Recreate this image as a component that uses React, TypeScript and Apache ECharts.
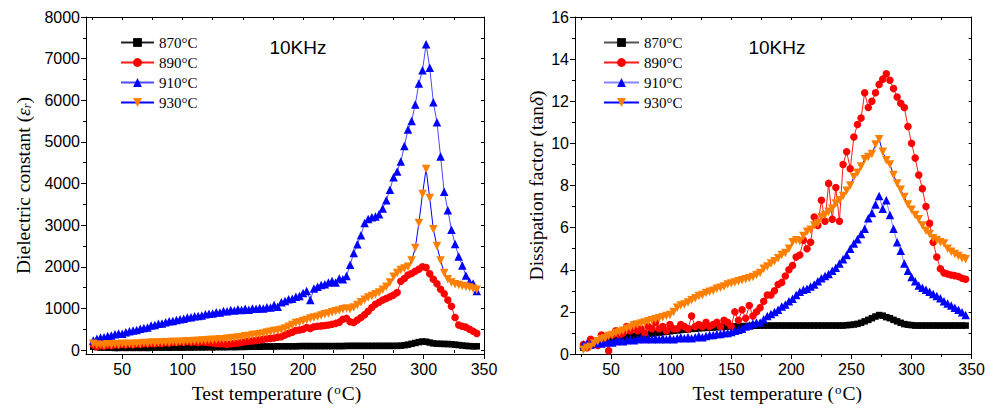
import React, { useEffect, useRef } from "react";
import * as echarts from "echarts";

// ---------- data ----------
const tempsLeft = [
  26, 29, 32, 35, 38, 41, 44, 47, 50, 53,
  56, 59, 62, 65, 68, 71, 74, 77, 80, 83,
  86, 89, 92, 95, 98, 101, 104, 107, 110, 113,
  116, 119, 122, 125, 128, 131, 134, 137, 140, 143,
  146, 149, 152, 155, 158, 161, 164, 167, 170, 173,
  176, 179, 182, 185, 188, 191, 194, 197, 200, 203,
  206, 209, 212, 215, 218, 221, 224, 227, 230, 233,
  236, 239, 242, 245, 248, 251, 254, 257, 260, 263,
  266, 269, 272, 275, 278, 281, 284, 287, 290, 293,
  296, 299, 302, 305, 308, 311, 314, 317, 320, 323,
  326, 329, 332, 335, 338, 341, 344,
];
const tempsRight = [
  27, 30, 33, 36, 39, 42, 45, 48, 51, 54,
  57, 60, 63, 66, 69, 72, 75, 78, 81, 84,
  87, 90, 93, 96, 99, 102, 105, 108, 111, 114,
  117, 120, 123, 126, 129, 132, 135, 138, 141, 144,
  147, 150, 153, 156, 159, 162, 165, 168, 171, 174,
  177, 180, 183, 186, 189, 192, 195, 198, 201, 204,
  207, 210, 213, 216, 219, 222, 225, 228, 231, 234,
  237, 240, 243, 246, 249, 252, 255, 258, 261, 264,
  267, 270, 273, 276, 279, 282, 285, 288, 291, 294,
  297, 300, 303, 306, 309, 312, 315, 318, 321, 324,
  327, 330, 333, 336, 339, 342, 345,
];

// Dielectric constant (left panel)
const eps870 = [
  80, 70, 60, 60, 55, 55, 50, 50, 55, 50,
  55, 50, 55, 50, 55, 50, 55, 55, 60, 55,
  60, 55, 60, 60, 60, 60, 65, 60, 65, 65,
  65, 65, 70, 65, 70, 70, 70, 70, 75, 70,
  75, 75, 75, 80, 80, 80, 80, 85, 85, 85,
  85, 90, 90, 90, 90, 90, 90, 95, 95, 95,
  95, 95, 95, 95, 95, 95, 95, 95, 95, 95,
  100, 100, 100, 100, 100, 100, 100, 100, 100, 100,
  100, 100, 100, 100, 100, 105, 115, 130, 150, 170,
  190, 205, 200, 180, 160, 150, 150, 145, 145, 140,
  130, 120, 110, 100, 95, 90, 90,
];
const eps890 = [
  120, 80, 110, 100, 120, 110, 130, 120, 140, 130,
  150, 130, 150, 140, 160, 150, 160, 150, 170, 160,
  180, 170, 190, 180, 200, 190, 210, 190, 200, 180,
  200, 190, 180, 170, 160, 150, 150, 140, 150, 160,
  170, 180, 200, 210, 220, 230, 250, 260, 270, 280,
  290, 310, 320, 360, 400, 430, 470, 480, 500, 540,
  520, 560, 570, 580, 590, 600, 620, 640, 670, 740,
  760, 680, 660, 720, 780, 850, 930, 1020, 1100, 1150,
  1200, 1240, 1280, 1320, 1380, 1650, 1720, 1800, 1840, 1890,
  1940, 2000, 1980, 1830, 1700, 1590, 1460, 1350, 1200, 1050,
  780, 600, 570, 550, 500, 450, 400,
];
const eps910 = [
  230, 270, 300, 310, 340, 350, 380, 400, 390, 430,
  450, 470, 480, 510, 530, 540, 590, 600, 630, 640,
  670, 690, 700, 720, 740, 750, 780, 790, 810, 820,
  830, 860, 870, 880, 910, 900, 940, 930, 960, 950,
  980, 960, 990, 970, 1000, 990, 1010, 1000, 1030, 1020,
  1080, 1040, 1150, 1180, 1220, 1230, 1280, 1300, 1370, 1420,
  1200, 1480, 1520, 1560, 1580, 1620, 1660, 1620, 1720, 1700,
  1780, 2050, 2330, 2540, 2760, 3050, 3150, 3190, 3210, 3260,
  3400, 3600, 3850, 4150, 4290, 4530, 4900, 5300, 5500, 5900,
  6400, 6720, 7344, 6780, 5950, 5470, 4650, 3800, 3360, 2890,
  2550, 2250, 2030, 1790, 1640, 1600, 1420,
];
const eps930 = [
  150, 120, 130, 110, 140, 120, 140, 130, 150, 140,
  150, 140, 160, 150, 170, 160, 180, 170, 180, 180,
  190, 180, 200, 190, 200, 200, 210, 210, 220, 220,
  230, 230, 240, 240, 250, 260, 260, 270, 280, 290,
  300, 310, 330, 340, 360, 370, 380, 400, 420, 440,
  460, 470, 490, 520, 560, 600, 650, 670, 700, 720,
  760, 780, 800, 830, 860, 880, 910, 930, 950, 980,
  1000, 980, 1020, 1080, 1150, 1210, 1260, 1300, 1340, 1380,
  1450, 1520, 1620, 1760, 1850, 1920, 1960, 2000, 2150, 2450,
  3050, 3750, 4350, 3650, 2900, 2500, 2150, 1850, 1700, 1620,
  1580, 1560, 1540, 1520, 1500, 1470, 1450,
];

// Dissipation factor (right panel)
const tan870 = [
  0.3, 0.35, 0.4, 0.45, 0.5, 0.55, 0.6, 0.65, 0.7, 0.72,
  0.75, 0.78, 0.8, 0.83, 0.86, 0.88, 0.9, 0.92, 0.95, 0.97,
  1.0, 1.02, 1.04, 1.06, 1.08, 1.1, 1.12, 1.14, 1.16, 1.17,
  1.19, 1.2, 1.22, 1.23, 1.24, 1.25, 1.26, 1.27, 1.28, 1.29,
  1.3, 1.3, 1.31, 1.32, 1.32, 1.33, 1.33, 1.34, 1.34, 1.35,
  1.35, 1.35, 1.35, 1.35, 1.35, 1.35, 1.35, 1.35, 1.35, 1.35,
  1.35, 1.35, 1.35, 1.35, 1.35, 1.35, 1.35, 1.35, 1.35, 1.35,
  1.35, 1.35, 1.35, 1.37, 1.38, 1.4, 1.43, 1.48, 1.55, 1.62,
  1.7, 1.78, 1.85, 1.82, 1.75, 1.7, 1.62, 1.55, 1.48, 1.42,
  1.39, 1.37, 1.35, 1.35, 1.35, 1.35, 1.35, 1.35, 1.35, 1.35,
  1.35, 1.35, 1.35, 1.35, 1.35, 1.35, 1.35,
];
const tan890 = [
  0.45, 0.3, 0.7, 0.5, 0.4, 0.9, 0.6, 0.15, 0.9, 1.1,
  0.9, 1.0, 1.3, 1.1, 1.4, 1.1, 1.2, 1.0, 1.3, 1.2,
  1.5, 1.2, 1.3, 1.1, 1.4, 1.2, 1.2, 1.4, 1.3, 1.2,
  1.8, 1.3, 1.4, 1.3, 1.5, 1.3, 1.4, 1.5, 1.3, 1.6,
  1.5, 1.3, 2.0, 1.6, 2.1, 1.7, 2.3, 1.8, 2.0, 2.2,
  2.5, 2.8, 2.8, 3.0, 3.3, 3.4, 3.7, 4.0, 4.2, 4.6,
  4.7, 5.4, 5.0, 5.3, 6.5, 6.1, 7.3, 6.3, 8.1, 6.4,
  7.9, 6.3, 9.0, 9.6, 8.8, 10.3, 10.9, 11.2, 12.4, 11.7,
  12.0, 12.4, 12.8, 13.05, 13.3, 13.0, 12.6, 12.2, 11.9, 11.7,
  10.8, 10.0, 9.3, 8.5, 7.85, 7.0, 6.2, 5.3, 4.6, 4.05,
  3.85, 3.8, 3.75, 3.72, 3.68, 3.6, 3.55,
];
const tan910 = [
  0.45, 0.5, 0.45, 0.5, 0.55, 0.5, 0.55, 0.6, 0.55, 0.6,
  0.65, 0.6, 0.65, 0.7, 0.65, 0.7, 0.75, 0.7, 0.75, 0.7,
  0.75, 0.7, 0.75, 0.7, 0.75, 0.7, 0.75, 0.8, 0.75, 0.8,
  0.75, 0.8, 0.85, 0.8, 0.85, 0.9, 0.9, 0.95, 0.95, 1.0,
  1.0, 1.05, 1.1, 1.15, 1.2, 1.3, 1.35, 1.45, 1.5, 1.5,
  1.65, 1.8, 1.9, 2.0, 2.1, 2.25, 2.35, 2.5, 2.62, 2.8,
  2.95, 3.05, 3.1, 3.2, 3.3, 3.45, 3.6, 3.7, 3.8, 3.95,
  4.1, 4.3, 4.5, 4.7, 5.0, 5.25, 5.45, 5.7, 5.95, 6.45,
  6.7, 7.1, 7.5, 6.9, 7.3, 6.6, 5.95, 5.3, 4.9, 4.3,
  3.95, 3.65, 3.45, 3.25, 3.15, 3.05, 2.95, 2.85, 2.75, 2.65,
  2.5, 2.4, 2.3, 2.2, 2.1, 1.98, 1.85,
];
const tan930 = [
  0.2, 0.3, 0.35, 0.5, 0.6, 0.7, 0.75, 0.85, 0.9, 1.0,
  1.05, 1.1, 1.2, 1.25, 1.35, 1.4, 1.45, 1.5, 1.55, 1.6,
  1.65, 1.7, 1.75, 1.8, 1.85, 2.0, 2.2, 2.3, 2.35, 2.45,
  2.55, 2.65, 2.75, 2.8, 2.9, 2.95, 3.0, 3.1, 3.15, 3.2,
  3.3, 3.35, 3.4, 3.45, 3.5, 3.55, 3.6, 3.65, 3.75, 3.85,
  4.05, 4.15, 4.3, 4.4, 4.55, 4.7, 4.8, 5.0, 5.3, 5.4,
  5.35, 5.6, 5.8, 5.9, 6.1, 6.2, 6.5, 6.6, 6.75, 6.9,
  7.15, 7.3, 7.5, 7.75, 8.0, 8.4, 8.6, 8.9, 9.25, 9.35,
  9.5, 9.95, 10.2, 9.6, 9.2, 9.0, 8.5, 8.1, 7.8, 7.45,
  7.1, 6.85, 6.6, 6.4, 6.1, 5.85, 5.7, 5.5, 5.4, 5.3,
  5.25, 5.0, 4.85, 4.75, 4.65, 4.55, 4.5,
];

const legendLabels = ["870°C", "890°C", "910°C", "930°C"];
const xMajorTicks = [50, 100, 150, 200, 250, 300, 350];
const xMinorTicks = [25, 75, 125, 175, 225, 275, 325];
const epsMajorTicks = [0, 1000, 2000, 3000, 4000, 5000, 6000, 7000, 8000];
const epsMinorTicks = [500, 1500, 2500, 3500, 4500, 5500, 6500, 7500];
const tanMajorTicks = [0, 2, 4, 6, 8, 10, 12, 14, 16];
const tanMinorTicks = [1, 3, 5, 7, 9, 11, 13, 15];
const panelTag = "10KHz";

// ---------- styles ----------
const SANS = '"Liberation Sans", Arial, sans-serif';
const SERIF = '"Liberation Serif", "Times New Roman", serif';

const markStyles = [
  { symbol: "rect", size: 6.5, rotate: 0, fill: "#000000", lineL: "#222222", lineR: "#555555" },
  { symbol: "circle", size: 7.5, rotate: 0, fill: "#ff0000", lineL: "#ff1a1a", lineR: "#ff1a1a" },
  { symbol: "triangle", size: 8.5, rotate: 0, fill: "#0000ff", lineL: "#4a4aff", lineR: "#8585ff" },
  { symbol: "triangle", size: 8.5, rotate: 180, fill: "#ff8000", lineL: "#0000ff", lineR: "#0000ff" },
];

const nameRich = {
  it: { fontFamily: SERIF, fontStyle: "italic", fontSize: 19.5, color: "#000" },
  sub: { fontFamily: SERIF, fontStyle: "italic", fontSize: 12, color: "#000", verticalAlign: "bottom", padding: [6, 0, 0, 0] },
  sup: { fontFamily: SERIF, fontSize: 13, color: "#000", verticalAlign: "top", padding: [0, 1, 6, 1] },
};

function panelAxes(
  g: number,
  yMin: number,
  yMax: number,
  yMaj: number[],
  yMinr: number[],
  yName: string,
  yNameGap: number,
  xPad: number[]
) {
  const line = { show: true, onZero: false, lineStyle: { color: "#000", width: 1 } };
  const tickStyle = { color: "#000", width: 1 };
  const xAxes = [
    {
      gridIndex: g, type: "value", min: 20, max: 350, position: "bottom",
      axisLine: line,
      axisTick: { show: true, customValues: xMajorTicks, length: 5, lineStyle: tickStyle },
      axisLabel: {
        show: true, customValues: xMajorTicks, margin: 7, fontFamily: SANS, fontSize: 16, color: "#000",
        formatter: (v: number) => String(v),
      },
      splitLine: { show: false },
      name: "Test temperature ({sup|o}C)",
      nameLocation: "middle",
      nameGap: 29,
      nameTextStyle: { fontFamily: SERIF, fontSize: 19.5, color: "#000", rich: nameRich, padding: xPad },
    },
    {
      gridIndex: g, type: "value", min: 20, max: 350, position: "bottom",
      axisLine: { show: false },
      axisTick: { show: true, customValues: xMinorTicks, length: 3, lineStyle: tickStyle },
      axisLabel: { show: false }, splitLine: { show: false },
    },
    {
      gridIndex: g, type: "value", min: 20, max: 350, position: "top",
      axisLine: line,
      axisTick: { show: true, inside: true, customValues: [...xMajorTicks, ...xMinorTicks], length: 3, lineStyle: tickStyle },
      axisLabel: { show: false }, splitLine: { show: false },
    },
  ];
  const yAxes = [
    {
      gridIndex: g, type: "value", min: yMin, max: yMax, position: "left",
      axisLine: line,
      axisTick: { show: true, customValues: yMaj, length: 5, lineStyle: tickStyle },
      axisLabel: {
        show: true, customValues: yMaj, margin: 6, fontFamily: SANS, fontSize: 16, color: "#000",
        formatter: (v: number) => String(v),
      },
      splitLine: { show: false },
      name: yName,
      nameLocation: "middle",
      nameGap: yNameGap,
      nameTextStyle: { fontFamily: SERIF, fontSize: 19.5, color: "#000", rich: nameRich, padding: [0, 0, 0, 0] },
    },
    {
      gridIndex: g, type: "value", min: yMin, max: yMax, position: "left",
      axisLine: { show: false },
      axisTick: { show: true, customValues: yMinr, length: 3, lineStyle: tickStyle },
      axisLabel: { show: false }, splitLine: { show: false },
    },
    {
      gridIndex: g, type: "value", min: yMin, max: yMax, position: "right",
      axisLine: line,
      axisTick: { show: true, inside: true, customValues: [...yMaj, ...yMinr], length: 3, lineStyle: tickStyle },
      axisLabel: { show: false }, splitLine: { show: false },
    },
  ];
  return { xAxes, yAxes };
}

function makeSeries(prefix: string, g: number, temps: number[], sets: number[][]) {
  return sets.map((vals, i) => {
    const st = markStyles[i];
    return {
      type: "line",
      name: prefix + "|" + legendLabels[i],
      xAxisIndex: g * 3,
      yAxisIndex: g * 3,
      data: temps.map((t, k) => [t, vals[k]]),
      symbol: st.symbol,
      symbolSize: st.size,
      symbolRotate: st.rotate,
      showSymbol: true,
      showAllSymbol: true,
      itemStyle: { color: st.fill, borderWidth: 0 },
      lineStyle: { color: prefix === "L" ? st.lineL : st.lineR, width: 1 },
      emphasis: { disabled: true },
      silent: true,
      animation: false,
    };
  });
}

function buildOption() {
  const left = panelAxes(0, -95, 8000, epsMajorTicks, epsMinorTicks, "Dielectric constant ({it|ε}{sub|r})", 53, [0, 17, 0, 0]);
  const right = panelAxes(1, 0, 16, tanMajorTicks, tanMinorTicks, "Dissipation factor (tan{it|δ})", 29, [0, 0, 0, 8]);
  const legendCommon = {
    orient: "vertical",
    itemWidth: 33,
    itemHeight: 11,
    itemGap: 5,
    padding: 0,
    selectedMode: false,
    formatter: (n: string) => n.split("|")[1],
    textStyle: { fontFamily: SERIF, fontSize: 15, color: "#000" },
  };
  return {
    animation: false,
    backgroundColor: "#ffffff",
    grid: [
      { left: 86, top: 17, width: 398, height: 342, containLabel: false },
      { left: 575, top: 17, width: 399, height: 342, containLabel: false },
    ],
    xAxis: [...left.xAxes, ...right.xAxes],
    yAxis: [...left.yAxes, ...right.yAxes],
    legend: [
      { ...legendCommon, left: 120, top: 35, data: legendLabels.map((l) => "L|" + l) },
      { ...legendCommon, left: 603, top: 35, itemWidth: 35, data: legendLabels.map((l) => "R|" + l) },
    ],
    graphic: [
      {
        type: "text", x: 298, y: 47,
        style: { text: panelTag, font: '19px "Liberation Sans", Arial, sans-serif', fill: "#000", textAlign: "center", textVerticalAlign: "middle" },
      },
      {
        type: "text", x: 777, y: 47,
        style: { text: panelTag, font: '19px "Liberation Sans", Arial, sans-serif', fill: "#000", textAlign: "center", textVerticalAlign: "middle" },
      },
    ],
    series: [
      ...makeSeries("L", 0, tempsLeft, [eps870, eps890, eps910, eps930]),
      ...makeSeries("R", 1, tempsRight, [tan870, tan890, tan910, tan930]),
    ],
  };
}

export default function App() {
  const ref = useRef<HTMLDivElement>(null);
  useEffect(() => {
    if (!ref.current) return;
    const chart = echarts.init(ref.current, undefined, { renderer: "svg" });
    chart.setOption(buildOption() as any);
    return () => {
      chart.dispose();
    };
  }, []);
  return (
    <div
      ref={ref}
      style={{ position: "fixed", left: 0, top: 0, width: 988, height: 408, background: "#fff" }}
    />
  );
}
